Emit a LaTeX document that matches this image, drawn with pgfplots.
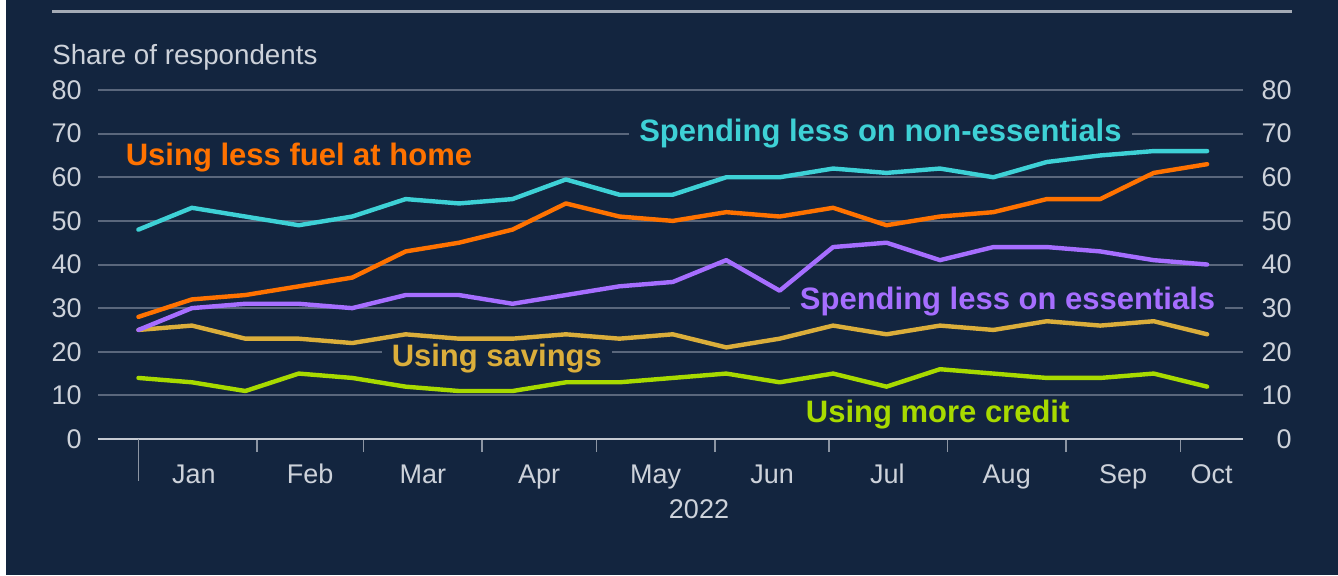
\documentclass[border=0pt]{standalone}
\usepackage{fontspec}
\setmainfont{Liberation Sans}
\usepackage{pgfplots}
\usepackage{pgfplotstable}
\pgfplotsset{compat=1.18}
\definecolor{bg}{HTML}{13253F}
\definecolor{txt}{HTML}{CDD2DA}
\definecolor{gridc}{HTML}{5A677C}
\definecolor{axc}{HTML}{C5CAD2}
\definecolor{tickc}{HTML}{8C95A3}
\definecolor{topl}{HTML}{A4ABB6}
\definecolor{cyanS}{HTML}{3ED1D6}
\definecolor{orangeS}{HTML}{FF7200}
\definecolor{purpleS}{HTML}{A66EFF}
\definecolor{goldS}{HTML}{DBAE3B}
\definecolor{limeS}{HTML}{A8DA00}

% day of 2022 (fortnightly survey), share of respondents (%)
\pgfplotstableread{
d   cy   or  pu  go  li
0   48   28  25  25  14
14  53   32  30  26  13
28  51   33  31  23  11
42  49   35  31  23  15
56  51   37  30  22  14
70  55   43  33  24  12
84  54   45  33  23  11
98  55   48  31  23  11
112 59.5 54  33  24  13
126 56   51  35  23  13
140 56   50  36  24  14
154 60   52  41  21  15
168 60   51  34  23  13
182 62   53  44  26  15
196 61   49  45  24  12
210 62   51  41  26  16
224 60   52  44  25  15
238 63.5 55  44  27  14
252 65   55  43  26  14
266 66   61  41  27  15
280 66   63  40  24  12
}\data

\newcommand{\tickfont}{\fontsize{20.25pt}{24pt}\selectfont}
\newcommand{\labfont}{\fontsize{23.25pt}{28pt}\selectfont\bfseries}

\begin{document}
\begin{tikzpicture}
\begin{scope}[x=0.75pt,y=-0.75pt]
\path[use as bounding box] (0,0) rectangle (1338,575);
\fill[bg] (0,0) rectangle (1338,575);
\fill[white] (0,0) rectangle (6,575);
\draw[topl, line width=2.25pt] (52,11.7) -- (1292,11.7);
\node[anchor=base west, inner sep=0pt, text=txt, font=\fontsize{20.8pt}{24pt}\selectfont] at (52,64) {Share of respondents};
\node[anchor=base, inner sep=0pt, text=txt, font=\tickfont] at (699,518) {2022};
\end{scope}

\begin{axis}[
  at={(73.5pt,-329.25pt)}, anchor=south west,
  scale only axis, width=858.75pt, height=261.75pt,
  xmin=-10.6, xmax=289.4, ymin=0, ymax=80,
  axis lines*=left,
  y axis line style={draw=none},
  x axis line style={draw=axc, line width=2pt},
  ytick={0,10,...,80},
  ymajorgrids,
  grid style={draw=gridc, line width=1.5pt},
  major tick length=0pt,
  minor tick length=9.75pt,
  tick align=outside,
  tick style={draw=tickc, line width=1.2pt},
  /pgf/number format/assume math mode=true,
  yticklabel style={anchor=east, inner sep=0pt, xshift=-12pt, text=txt, font=\tickfont},
  xtick={14.5,45,74.5,105,135.5,166,196.2,227.5,258,281.2},
  xticklabels={Jan,Feb,Mar,Apr,May,Jun,Jul,Aug,Sep,Oct},
  xticklabel style={anchor=base, inner sep=0pt, yshift=-33pt, text=txt, font=\tickfont},
  minor xtick={31,59,90,120,151,181,212,243,273},
  extra x ticks={0},
  extra x tick labels={},
  extra x tick style={major tick length=31.5pt, tick align=outside},
  clip=false,
  every axis plot/.append style={line width=3.3pt, line join=round, line cap=round, no markers},
]
\node[anchor=base, fill=bg, inner xsep=7.5pt, inner ysep=2pt, text=orangeS, font=\labfont] at (axis cs:42.06,62.8) {Using less fuel at home};
\node[anchor=base, fill=bg, inner xsep=7.5pt, inner ysep=2pt, text=cyanS, font=\labfont] at (axis cs:194.4,68.2) {Spending less on non-essentials};
\node[anchor=base, fill=bg, inner xsep=7.5pt, inner ysep=2pt, text=purpleS, font=\labfont] at (axis cs:227.7,29.8) {Spending less on essentials};
\node[anchor=base, fill=bg, inner xsep=7.5pt, inner ysep=2pt, text=goldS, font=\labfont] at (axis cs:93.9,16.6) {Using savings};
\node[anchor=base, fill=bg, inner xsep=7.5pt, inner ysep=2pt, text=limeS, font=\labfont] at (axis cs:209.4,3.67) {Using more credit};
\addplot[limeS] table[x=d,y=li] {\data};
\addplot[goldS] table[x=d,y=go] {\data};
\addplot[purpleS] table[x=d,y=pu] {\data};
\addplot[orangeS] table[x=d,y=or] {\data};
\addplot[cyanS] table[x=d,y=cy] {\data};
\end{axis}

\begin{axis}[
  at={(73.5pt,-329.25pt)}, anchor=south west,
  scale only axis, width=858.75pt, height=261.75pt,
  xmin=-10.6, xmax=289.4, ymin=0, ymax=80,
  axis x line=none,
  axis y line*=right,
  y axis line style={draw=none},
  ytick={0,10,...,80},
  major tick length=0pt,
  tick style={draw=none},
  /pgf/number format/assume math mode=true,
  yticklabel style={anchor=east, inner sep=0pt, xshift=36.75pt, text=txt, font=\tickfont},
]
\end{axis}
\end{tikzpicture}
\end{document}
